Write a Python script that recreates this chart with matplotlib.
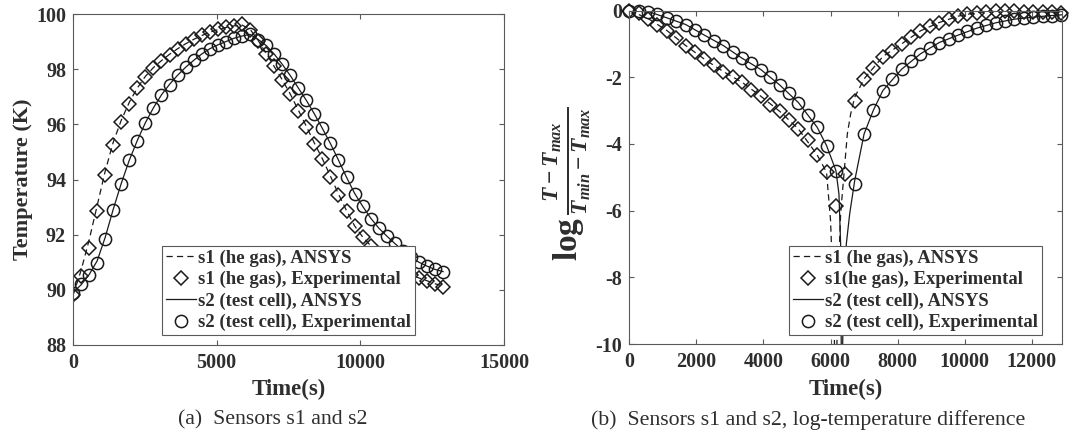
import matplotlib
matplotlib.use("Agg")
import matplotlib.pyplot as plt
import numpy as np

# ---------------- data ----------------
time_s = [0, 280, 560, 840, 1120, 1400, 1680, 1960, 2240, 2520, 2800, 3080, 3360,
          3640, 3920, 4200, 4480, 4760, 5040, 5320, 5600, 5880, 6160, 6440, 6720,
          7000, 7280, 7560, 7840, 8120, 8400, 8680, 8960, 9240, 9520, 9800, 10080,
          10360, 10640, 10920, 11200, 11480, 11760, 12040, 12320, 12600, 12880]

# (a) temperatures, K
s1_exp_T = [89.8, 90.5, 91.5, 92.85, 94.15, 95.25, 96.1, 96.75, 97.3, 97.72, 98.05,
            98.3, 98.53, 98.74, 98.92, 99.08, 99.23, 99.35, 99.44, 99.52, 99.58, 99.62,
            99.42, 99.02, 98.55, 98.1, 97.62, 97.1, 96.5, 95.92, 95.3, 94.75, 94.1,
            93.45, 92.85, 92.3, 91.9, 91.58, 91.3, 91.05, 90.85, 90.66, 90.52, 90.42,
            90.32, 90.2, 90.12]
s1_ansys_T = [89.8, 90.7, 91.8, 93.05, 94.3, 95.35, 96.15, 96.8, 97.32, 97.74, 98.06,
              98.31, 98.54, 98.74, 98.92, 99.08, 99.22, 99.34, 99.43, 99.51, 99.57, 99.6,
              99.45, 99.05, 98.57, 98.1, 97.62, 97.1, 96.52, 95.93, 95.32, 94.75, 94.12,
              93.47, 92.87, 92.32, 91.92, 91.6, 91.32, 91.07, 90.86, 90.68, 90.54, 90.43,
              90.33, 90.22, 90.14]
s2_exp_T = [89.9, 90.2, 90.52, 90.98, 91.85, 92.9, 93.85, 94.7, 95.4, 96.05, 96.6,
            97.07, 97.44, 97.78, 98.07, 98.32, 98.55, 98.74, 98.88, 99.0, 99.12, 99.2,
            99.27, 99.07, 98.86, 98.55, 98.18, 97.78, 97.32, 96.88, 96.38, 95.85, 95.32,
            94.72, 94.08, 93.48, 93.03, 92.58, 92.23, 91.94, 91.68, 91.42, 91.18, 91.0,
            90.86, 90.74, 90.66]
s2_ansys_T = [89.9, 90.18, 90.55, 91.05, 91.9, 92.92, 93.86, 94.7, 95.42, 96.06, 96.6,
              97.07, 97.45, 97.78, 98.07, 98.32, 98.55, 98.74, 98.88, 99.0, 99.12, 99.2,
              99.26, 99.08, 98.86, 98.55, 98.18, 97.77, 97.32, 96.87, 96.38, 95.85, 95.3,
              94.7, 94.08, 93.5, 93.03, 92.6, 92.24, 91.95, 91.68, 91.42, 91.18, 91.0,
              90.86, 90.74, 90.66]

# (b) log-temperature difference (NaN: point at T = Tmax, off the axis)
s1_exp_log = [0.0, -0.07, -0.24, -0.43, -0.6, -0.82, -1.05, -1.24, -1.46, -1.64, -1.83,
              -1.99, -2.15, -2.37, -2.57, -2.82, -3.02, -3.27, -3.55, -3.88, -4.33, -4.85,
              -5.87, -4.9, -2.7, -2.05, -1.72, -1.38, -1.2, -1.0, -0.78, -0.61, -0.46,
              -0.36, -0.25, -0.17, -0.1, -0.06, -0.03, -0.02, -0.02, -0.02, -0.03, -0.03,
              -0.04, -0.05, -0.06]
s2_exp_log = [0.0, -0.01, -0.03, -0.1, -0.22, -0.32, -0.42, -0.58, -0.74, -0.9, -1.05,
              -1.24, -1.43, -1.58, -1.77, -1.98, -2.23, -2.47, -2.76, -3.12, -3.5, -4.05,
              -4.8, np.nan, -5.2, -3.7, -2.98, -2.4, -2.05, -1.76, -1.5, -1.3, -1.13,
              -0.96, -0.85, -0.74, -0.62, -0.53, -0.44, -0.37, -0.31, -0.26, -0.23, -0.2,
              -0.17, -0.15, -0.13]

s1_ansys_t = [0, 560, 1120, 1680, 2240, 2800, 3360, 3920, 4480, 5040, 5600, 5880, 6000,
              6100, 6150, 6230, 6300, 6400, 6500, 6600, 6720, 7000, 7560, 8120, 8680,
              9240, 9800, 10360, 10920, 11480, 12040, 12600, 12880]
s1_ansys_log = [0, -0.24, -0.6, -1.05, -1.46, -1.83, -2.15, -2.57, -3.02, -3.55, -4.33,
                -4.85, -6.3, -9.0, -12.0, -8.0, -6.1, -4.9, -3.7, -3.1, -2.6, -2.05,
                -1.38, -1.0, -0.61, -0.36, -0.17, -0.06, -0.02, -0.02, -0.03, -0.05, -0.06]
s2_ansys_t = [0, 560, 1120, 1680, 2240, 2800, 3360, 3920, 4480, 5040, 5600, 5880, 6160,
              6250, 6300, 6330, 6380, 6470, 6570, 6720, 7000, 7280, 7560, 8120, 8680,
              9240, 9800, 10360, 10920, 11480, 12040, 12600, 12880]
s2_ansys_log = [0, -0.03, -0.22, -0.42, -0.74, -1.05, -1.43, -1.77, -2.23, -2.76, -3.5,
                -4.05, -4.8, -5.5, -7.0, -12.0, -8.8, -7.0, -6.1, -5.1, -3.7, -2.98, -2.4,
                -1.76, -1.3, -0.96, -0.74, -0.53, -0.37, -0.26, -0.2, -0.15, -0.13]

labels_a = ["s1 (he gas), ANSYS", "s1 (he gas), Experimental",
            "s2 (test cell), ANSYS", "s2 (test cell), Experimental"]
labels_b = ["s1 (he gas), ANSYS", "s1(he gas), Experimental",
            "s2 (test cell), ANSYS", "s2 (test cell), Experimental"]
xticks_a = [0, 5000, 10000, 15000]
yticks_a = [88, 90, 92, 94, 96, 98, 100]
xticks_b = [0, 2000, 4000, 6000, 8000, 10000, 12000]
yticks_b = [-10, -8, -6, -4, -2, 0]

# ---------------- style ----------------
plt.rcParams.update({
    "font.family": ["Liberation Serif", "DejaVu Serif"],
    "font.weight": "bold",
    "axes.labelweight": "bold",
    "mathtext.fontset": "custom",
    "mathtext.rm": "Liberation Serif:bold",
    "mathtext.it": "Liberation Serif:italic:bold",
    "mathtext.bf": "Liberation Serif:bold",
    "axes.unicode_minus": False,
    "lines.scale_dashes": False,
})

INK = "#1a1a1a"
AXC = "#5a5a5a"
TXT = "#2e2e2e"

fig = plt.figure(figsize=(10.73, 4.38), dpi=100)
ax1 = fig.add_axes([73 / 1073, 1 - 345 / 438, 431 / 1073, 331 / 438])
ax2 = fig.add_axes([629.3 / 1073, 1 - 344 / 438, 432.7 / 1073, 333.5 / 438])

mk_d = dict(marker="D", ms=7.3, mfc="none", mec=INK, mew=1.1, ls="none")
mk_o = dict(marker="o", ms=8.8, mfc="none", mec=INK, mew=1.1, ls="none")
ln_dash = dict(color=INK, lw=0.9, ls="--", dashes=(4.5, 3.0))
ln_solid = dict(color=INK, lw=0.9, ls="-")


def style(ax):
    for s in ax.spines.values():
        s.set_color(AXC)
        s.set_linewidth(0.8)
    ax.tick_params(direction="in", top=True, right=True, length=3.8, width=0.8,
                   colors=AXC, labelcolor=TXT, labelsize=14.5)
    ax.tick_params(axis="x", pad=6)
    ax.tick_params(axis="y", pad=5)


def legend(ax, handles, labels, loc, anchor):
    leg = ax.legend(handles, labels, loc=loc, bbox_to_anchor=anchor, borderaxespad=0,
                    fancybox=False, edgecolor=AXC, framealpha=1, fontsize=13.5,
                    handlelength=1.6, handletextpad=0.12, borderpad=0.2,
                    labelspacing=0.22)
    leg.get_frame().set_linewidth(0.8)
    for t in leg.get_texts():
        t.set_color(TXT)
    return leg


# (a)
h1, = ax1.plot(time_s, s1_ansys_T, **ln_dash)
h2, = ax1.plot(time_s, s1_exp_T, **mk_d)
h3, = ax1.plot(time_s, s2_ansys_T, **ln_solid)
h4, = ax1.plot(time_s, s2_exp_T, **mk_o)
ax1.set_xlim(0, 15000)
ax1.set_ylim(88, 100)
ax1.set_xticks(xticks_a)
ax1.set_yticks(yticks_a)
style(ax1)
ax1.set_xlabel("Time(s)", fontsize=16.5, color=TXT)
ax1.set_ylabel("Temperature (K)", fontsize=16, color=TXT)
ax1.xaxis.set_label_coords(0.5, -0.103)
ax1.yaxis.set_label_coords(-0.093, 0.5)
legend(ax1, [h1, h2, h3, h4], labels_a, "lower left", (0.2065, 0.030))

# (b)
g1, = ax2.plot(s1_ansys_t, s1_ansys_log, **ln_dash)
g2, = ax2.plot(time_s, s1_exp_log, clip_on=False, **mk_d)
g3, = ax2.plot(s2_ansys_t, s2_ansys_log, **ln_solid)
g4, = ax2.plot(time_s, s2_exp_log, clip_on=False, **mk_o)
ax2.set_xlim(0, 12900)
ax2.set_ylim(-10, 0)
ax2.set_xticks(xticks_b)
ax2.set_yticks(yticks_b)
style(ax2)
ax2.set_xlabel("Time(s)", fontsize=16.5, color=TXT)
ax2.set_ylabel(r"$\log\frac{T-T_{max}}{T_{min}-T_{max}}$", fontsize=24, color=TXT)
ax2.xaxis.set_label_coords(0.5, -0.105)
ax2.yaxis.set_label_coords(-0.084, 0.48)
legend(ax2, [g1, g2, g3, g4], labels_b, "lower right", (0.954, 0.027))

fig.text(273 / 1073, 1 - 420 / 438, "(a)  Sensors s1 and s2", ha="center", va="center",
         fontsize=15.7, fontweight="normal", color=TXT)
fig.text(808 / 1073, 1 - 420 / 438, "(b)  Sensors s1 and s2, log-temperature difference",
         ha="center", va="center", fontsize=15.7, fontweight="normal", color=TXT)

fig.savefig("out.png", dpi=100)
